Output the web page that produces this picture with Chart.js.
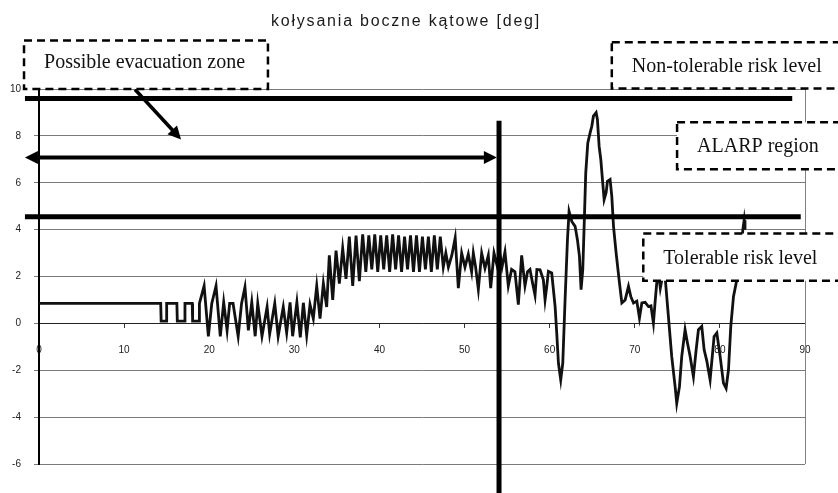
<!DOCTYPE html>
<html>
<head>
<meta charset="utf-8">
<script src="https://cdn.jsdelivr.net/npm/chart.js@4.4.1/dist/chart.umd.min.js"></script>
<style>
    html, body { margin: 0; padding: 0; background: #fff; }
    #wrap { width: 838px; height: 493px; position: relative; }
</style>
</head>
<body>
<div id="wrap"><canvas id="rollChart"></canvas></div>
<script>
// =============================================
// DATA - kołysania boczne kątowe
// =============================================
const timeS = [
    0, 14.3, 14.35, 14.95, 15.0, 16.2, 16.25, 17.1, 17.15, 18.0, 18.05, 18.8, 18.85,
    19.4, 19.9, 20.3, 20.8, 21.3, 21.7, 22.1, 22.4, 22.8, 23.4, 23.8, 24.2, 24.6, 25.0, 25.4, 25.7,
    26.2, 26.8, 27.1, 27.7, 28.1, 28.7, 29.1, 29.5, 29.8, 30.3, 30.7,
    31.06, 31.45, 31.84, 32.23, 32.63, 33.02, 33.41, 33.8, 34.11, 34.51, 34.9, 35.29, 35.68, 36.07,
    36.46, 36.86, 37.25, 37.64, 38.03, 38.4, 38.75, 39.1, 39.45, 39.8, 40.15, 40.5, 40.85, 41.2,
    41.55, 41.9, 42.25, 42.6, 42.95, 43.3, 43.65, 44.0, 44.35, 44.7, 45.05, 45.4, 45.75, 46.1,
    46.45, 46.8, 47.15, 47.5, 47.8, 48.1, 48.5, 48.9, 49.27, 49.66, 50.05, 50.44, 50.83, 51.03,
    51.3, 51.62, 52.01, 52.4, 52.79, 53.07, 53.46, 53.8, 54.1, 54.4, 54.75, 55.14, 55.53, 55.92,
    56.32, 56.71, 57.1, 57.4, 57.69, 58.0, 58.28, 58.5,
    58.87, 59.26, 59.46, 59.66, 59.85, 60.24, 60.44, 60.64, 60.83, 61.03, 61.3, 61.54, 61.81,
    62.09, 62.28, 62.6, 62.99, 63.26, 63.5, 63.69, 63.89, 64.05, 64.24, 64.48, 64.75, 64.95,
    65.14, 65.46, 65.61, 65.81, 66.01, 66.2, 66.4, 66.63, 66.79, 67.1, 67.3, 67.5, 67.81, 68.16,
    68.48, 68.87, 69.26, 69.53, 69.85, 70.24, 70.55, 70.83, 71.22, 71.6, 71.9, 72.19, 72.38,
    72.58, 72.8, 73.0, 73.3, 73.56,
    73.95, 74.34, 74.74, 74.93, 75.25, 75.52, 75.91, 76.19, 76.5, 76.89, 77.21, 77.48, 77.87,
    78.15, 78.46, 78.85, 79.32, 79.64, 80.03, 80.42, 80.73, 81.01, 81.28, 81.6, 81.99, 82.4,
    82.7, 82.85, 82.95
];
const rollDeg = [
    0.85, 0.85, 0.1, 0.1, 0.85, 0.85, 0.1, 0.1, 0.85, 0.85, 0.1, 0.1, 0.85,
    1.6, -0.55, 0.85, 1.6, -0.55, 0.9, -0.3, 0.85, 0.85, -0.55, 0.85, 1.55, -0.3, 0.9, -0.55, 0.85,
    -0.55, 0.7, -0.45, 0.85, -0.55, 0.7, -0.4, 0.9, -0.55, 0.9, -0.6,
    0.88, -0.5, 0.8, 0.2, 1.6, 0.2, 1.7, 0.7, 2.9, 1.0, 3.1, 1.7, 3.2, 1.9,
    3.7, 1.6, 3.75, 1.8, 3.8, 2.2, 3.75, 2.3, 3.8, 2.2, 3.75, 2.3, 3.75, 2.2,
    3.8, 2.3, 3.75, 2.2, 3.7, 2.3, 3.75, 2.2, 3.75, 2.2, 3.7, 2.3, 3.7, 2.2,
    3.75, 2.3, 3.7, 2.4, 3.0, 2.4, 2.9, 3.65, 1.5, 3.0, 2.4, 2.95, 2.2, 3.0,
    2.4, 1.45, 3.0, 2.35, 2.9, 1.5, 3.0, 2.5, 3.1, 2.4, 3.05, 1.6, 2.3, 2.2,
    0.8, 2.9, 1.6, 2.2, 2.3, 1.7, 1.2, 2.3,
    2.29, 1.86, 1.0, 1.58, 2.22, 2.15, 1.44, 0.72, -0.41, -1.7, -2.41, -1.7, 1.0,
    3.57, 4.78, 4.35, 4.14, 3.57, 2.86, 1.44, 2.29, 4.14, 6.42, 7.7, 8.13, 8.41,
    8.84, 8.99, 8.7, 7.56, 6.99, 6.14, 5.28, 5.57, 6.06, 6.14, 5.42, 4.14, 3.0, 1.86,
    0.87, 1.0, 1.58, 1.15, 0.87, 0.95, 0.23, 0.87, 0.9, 0.72, 0.75, 0.01, 0.87,
    1.72, 2.1, 1.5, 2.1, 2.0,
    0.3, -1.41, -2.7, -3.41, -2.7, -1.41, -0.27, -0.84, -1.4, -2.27, -1.13, -0.27, -0.13,
    -1.13, -1.6, -2.41, -0.56, -0.41, -1.41, -2.55, -2.77, -1.98, -0.13, 1.15, 1.86, 3.0,
    4.0, 4.4, 4.0
];
const xTicks = [0, 10, 20, 30, 40, 50, 60, 70, 80, 90];
const yTicks = [-6, -4, -2, 0, 2, 4, 6, 8, 10];

// risk levels [deg] and evacuation limit [s]
const nonTolerableLevel = 9.6;
const tolerableLevel = 4.55;
const evacuationLimit = 54.05;

// =============================================
// ANNOTATIONS (boxes and arrows, in axis units)
// =============================================
const boxes = [
    { text: 'Possible evacuation zone', x0: -1.76, x1: 26.9, y0: 12.07, y1: 10.0, dy: 3.5 },
    { text: 'Non-tolerable risk level', x0: 67.3, x1: 96, y0: 11.99, y1: 10.02, dy: 7 },
    { text: 'ALARP region', x0: 74.97, x1: 96, y0: 8.58, y1: 6.58, dy: 6.5 },
    { text: 'Tolerable risk level', x0: 71.0, x1: 96, y0: 3.83, y1: 1.82, dy: 6.5 }
];
const arrows = [
    { from: [-1.65, 7.08], to: [53.8, 7.08], width: 4, both: true },
    { from: [11.28, 9.98], to: [16.69, 7.85], width: 3.5, both: false }
];

function drawHead(ctx, fx, fy, tx, ty) {
    const ang = Math.atan2(ty - fy, tx - fx);
    const len = 13, half = 6.5;
    ctx.beginPath();
    ctx.moveTo(tx, ty);
    ctx.lineTo(tx - len * Math.cos(ang) + half * Math.sin(ang), ty - len * Math.sin(ang) - half * Math.cos(ang));
    ctx.lineTo(tx - len * Math.cos(ang) - half * Math.sin(ang), ty - len * Math.sin(ang) + half * Math.cos(ang));
    ctx.closePath();
    ctx.fill();
}

const annotationPlugin = {
    id: 'riskAnnotations',
    afterDatasetsDraw(chart) {
        const { ctx, chartArea, scales: { x, y } } = chart;
        ctx.save();

        // right frame of the plot area
        ctx.strokeStyle = '#808080';
        ctx.lineWidth = 1;
        ctx.beginPath();
        ctx.moveTo(chartArea.right + 0.5, chartArea.top);
        ctx.lineTo(chartArea.right + 0.5, chartArea.bottom);
        ctx.stroke();

        // arrows
        ctx.strokeStyle = '#000';
        ctx.fillStyle = '#000';
        arrows.forEach(a => {
            let fx = x.getPixelForValue(a.from[0]), fy = y.getPixelForValue(a.from[1]);
            let tx = x.getPixelForValue(a.to[0]), ty = y.getPixelForValue(a.to[1]);
            const ang = Math.atan2(ty - fy, tx - fx);
            ctx.lineWidth = a.width;
            ctx.beginPath();
            ctx.moveTo(a.both ? fx + 10 * Math.cos(ang) : fx, a.both ? fy + 10 * Math.sin(ang) : fy);
            ctx.lineTo(tx - 10 * Math.cos(ang), ty - 10 * Math.sin(ang));
            ctx.stroke();
            drawHead(ctx, fx, fy, tx, ty);
            if (a.both) drawHead(ctx, tx, ty, fx, fy);
        });

        // dashed text boxes
        boxes.forEach(b => {
            const left = x.getPixelForValue(b.x0), right = x.getPixelForValue(b.x1);
            const top = y.getPixelForValue(b.y0), bottom = y.getPixelForValue(b.y1);
            ctx.fillStyle = '#fff';
            ctx.fillRect(left, top, right - left, bottom - top);
            ctx.setLineDash([8, 5]);
            ctx.lineWidth = 2.5;
            ctx.strokeStyle = '#000';
            ctx.strokeRect(left, top, right - left, bottom - top);
            ctx.setLineDash([]);
            ctx.fillStyle = '#111';
            ctx.font = '20px "Liberation Serif", "Times New Roman", serif';
            ctx.textAlign = 'left';
            ctx.textBaseline = 'alphabetic';
            ctx.fillText(b.text, left + 20, (top + bottom) / 2 + b.dy);
        });

        // title
        ctx.fillStyle = '#1a1a1a';
        ctx.font = '16px "Liberation Sans", Arial, sans-serif';
        ctx.textAlign = 'center';
        ctx.letterSpacing = '1.8px';
        ctx.fillText('kołysania boczne kątowe [deg]', 406, 26);
        ctx.restore();
    }
};

const riskLine = (points, width) => ({
    data: points,
    showLine: true,
    borderColor: '#000',
    borderWidth: width,
    pointRadius: 0,
    clip: false
});

const ctx = document.getElementById('rollChart');
const rollChart = new Chart(ctx, {
    type: 'scatter',
    data: {
        datasets: [
            riskLine([{ x: evacuationLimit, y: 8.65 }, { x: evacuationLimit, y: -7.4 }], 5),
            riskLine([{ x: -1.65, y: nonTolerableLevel }, { x: 88.5, y: nonTolerableLevel }], 5),
            riskLine([{ x: -1.65, y: tolerableLevel }, { x: 89.5, y: tolerableLevel }], 5),
            {
                label: 'kołysania boczne kątowe',
                data: timeS.map((t, i) => ({ x: t, y: rollDeg[i] })),
                showLine: true,
                borderColor: '#111',
                borderWidth: 2.8,
                pointRadius: 0,
                tension: 0
            }
        ]
    },
    options: {
        responsive: true,
        maintainAspectRatio: false,
        animation: false,
        layout: { padding: { top: 89, right: 33, bottom: 29, left: 0 } },
        plugins: {
            legend: { display: false },
            tooltip: { enabled: false }
        },
        scales: {
            x: {
                type: 'linear',
                min: 0,
                max: 90,
                position: { y: 0 },
                afterBuildTicks: s => { s.ticks = xTicks.map(v => ({ value: v })); },
                afterFit: s => { s.height = 0; },
                grid: { drawOnChartArea: false, tickLength: 4, color: '#333' },
                border: { color: '#222', width: 1 },
                ticks: {
                    padding: 17,
                    maxRotation: 0,
                    color: '#222',
                    font: { family: 'Liberation Sans', size: 10 }
                }
            },
            y: {
                min: -6,
                max: 10,
                afterBuildTicks: s => { s.ticks = yTicks.map(v => ({ value: v })); },
                afterFit: s => { s.width = 39; },
                grid: { color: '#7a7a7a', tickLength: 5 },
                border: { color: '#000', width: 2 },
                ticks: {
                    padding: 13,
                    color: '#222',
                    font: { family: 'Liberation Sans', size: 10 }
                }
            }
        }
    },
    plugins: [annotationPlugin]
});
</script>
</body>
</html>
